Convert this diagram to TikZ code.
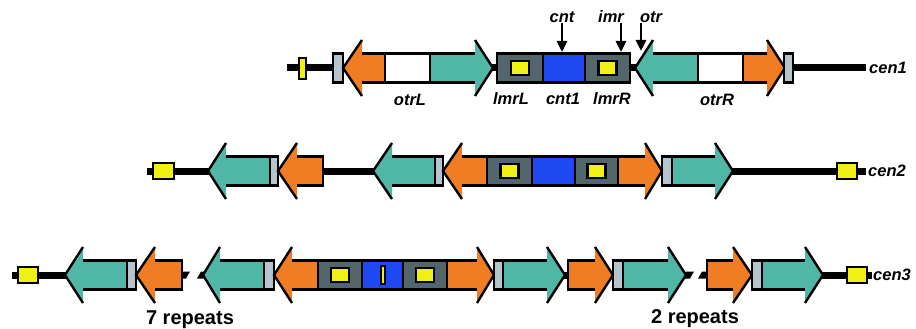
\documentclass[tikz,border=0pt]{standalone}
\usepackage{fontspec}
\setmainfont{Liberation Sans}
\usetikzlibrary{arrows.meta,positioning,calc}

\definecolor{orng}{RGB}{240,125,35}
\definecolor{tealc}{RGB}{80,182,166}
\definecolor{lgray}{RGB}{182,196,206}
\definecolor{slate}{RGB}{82,102,108}
\definecolor{blu}{RGB}{30,72,240}
\definecolor{yel}{RGB}{240,240,20}

% arrow pointing left: tip, head back, body end, y, colour
\newcommand{\arL}[5]{%
  \fill[#5] (#1,#4) -- (#2,#4-28) -- (#2,#4-14.5) -- (#3,#4-14.5) -- (#3,#4+14.5) -- (#2,#4+14.5) -- (#2,#4+28) -- cycle;
  \draw[seg] (#2,#4-14.5) -- (#3,#4-14.5) -- (#3,#4+14.5) -- (#2,#4+14.5);
  \draw[seg] (#2,#4-28) -- (#1,#4) -- (#2,#4+28);}
% arrow pointing right: tip, head back, body start, y, colour
\newcommand{\arR}[5]{%
  \fill[#5] (#1,#4) -- (#2,#4-28) -- (#2,#4-14.5) -- (#3,#4-14.5) -- (#3,#4+14.5) -- (#2,#4+14.5) -- (#2,#4+28) -- cycle;
  \draw[seg] (#2,#4-14.5) -- (#3,#4-14.5) -- (#3,#4+14.5) -- (#2,#4+14.5);
  \draw[seg] (#2,#4-28) -- (#1,#4) -- (#2,#4+28);}
% plain box: x1, x2, y, colour
\newcommand{\bx}[4]{\filldraw[seg,fill=#4] (#1,#3-14.5) rectangle (#2,#3+14.5);}
% imr box with yellow core
\newcommand{\imrbx}[3]{%
  \filldraw[seg,fill=slate] (#1,#3-14.5) rectangle (#2,#3+14.5);
  \filldraw[seg,fill=yel] ({(#1+#2)/2-9},#3-7) rectangle ({(#1+#2)/2+9},#3+7);}
% yellow end mark: x1, x2, y1, y2
\newcommand{\telo}[4]{\filldraw[seg,fill=yel] (#1,#3) rectangle (#2,#4);}

\begin{document}
\begin{tikzpicture}[x=1pt,y=-1pt,
  seg/.style={draw=black,line width=2.4pt},
  chr/.style={line width=7pt},
  lbl/.style={font=\bfseries\itshape\fontsize{16.5}{16.5}\selectfont,inner sep=0pt},
  rep/.style={font=\bfseries\fontsize{20}{20}\selectfont,inner sep=0pt},
  ptr/.style={line width=2.6pt,-{Triangle[length=11pt,width=10pt]}}]
\useasboundingbox (0,0) rectangle (916,329);

% cen1
\draw[chr] (287,68) -- (866,68);
\telo{299}{306}{58}{79}
\bx{333}{343}{68}{lgray}
\arL{343}{362}{385}{68}{orng}
\bx{385}{430}{68}{white}
\arR{493}{475}{430}{68}{tealc}
\imrbx{497}{543}{68}
\bx{543}{585}{68}{blu}
\imrbx{585}{630}{68}
\arL{635}{653}{698}{68}{tealc}
\bx{698}{743}{68}{white}
\arR{785}{767}{743}{68}{orng}
\bx{784}{793}{68}{lgray}

\node[lbl,anchor=west] (cen1) at (869,68) {cen1};
\node[lbl] (otrL) at (410,100) {otrL};
\node[lbl] (imrL) at (511,99) {lmrL};
\node[lbl] (cnt1) at (563,99) {cnt1};
\node[lbl] (imrR) at (612,99) {lmrR};
\node[lbl] (otrR) at (717,100) {otrR};

\node[lbl] (cnt) at (562,17) {cnt};
\node[lbl] (imr) at (611,17) {imr};
\node[lbl] (otr) at (651,17) {otr};
\coordinate (cntpt) at (562,52);
\coordinate (imrpt) at (621,52);
\coordinate (otrpt) at (641,51);
\draw[ptr] (cnt.south -| cntpt) -- (cntpt);
\draw[ptr] (imr.south -| imrpt) -- (imrpt);
\draw[ptr] (otr.south -| otrpt) -- (otrpt);

% cen2
\draw[chr] (147,171) -- (866,171);
\telo{153}{174}{163}{179}
\arL{208}{226}{270}{171}{tealc}
\bx{270}{278}{171}{lgray}
\arL{278}{297}{323}{171}{orng}
\arL{373}{392}{435}{171}{tealc}
\bx{435}{443}{171}{lgray}
\arL{443}{462}{487}{171}{orng}
\imrbx{487}{532}{171}
\bx{532}{575}{171}{blu}
\imrbx{575}{618}{171}
\arR{662}{645}{618}{171}{orng}
\bx{662}{672}{171}{lgray}
\arR{733}{715}{672}{171}{tealc}
\telo{837}{857}{163}{179}
\node[lbl,anchor=west] (cen2) at (868,171) {cen2};

% cen3
\draw[chr] (12,275) -- (182,275);
\draw[chr] (205,275) -- (686,275);
\draw[chr] (707,275) -- (872,275);
\fill (182,271.5) -- (190,271.5) -- (186,278.5) -- (182,278.5) -- cycle;
\fill (197,278.5) -- (201,271.5) -- (206,271.5) -- (206,278.5) -- cycle;
\fill (686,271.5) -- (694,271.5) -- (690,278.5) -- (686,278.5) -- cycle;
\fill (698,278.5) -- (702,271.5) -- (708,271.5) -- (708,278.5) -- cycle;
\telo{18}{38}{267}{283}
\arL{65}{83}{127}{275}{tealc}
\bx{127}{136}{275}{lgray}
\arL{136}{155}{182}{275}{orng}
\arL{203}{220}{264}{275}{tealc}
\bx{264}{274}{275}{lgray}
\arL{274}{292}{318}{275}{orng}
\imrbx{318}{362}{275}
\bx{362}{403}{275}{blu}
\filldraw[seg,fill=yel] (381,266) rectangle (385,284);
\imrbx{403}{447}{275}
\arR{494}{477}{447}{275}{orng}
\bx{494}{503}{275}{lgray}
\arR{565}{547}{503}{275}{tealc}
\arR{613}{595}{568}{275}{orng}
\bx{613}{623}{275}{lgray}
\arR{686}{668}{623}{275}{tealc}
\arR{752}{733}{707}{275}{orng}
\bx{752}{762}{275}{lgray}
\arR{823}{805}{762}{275}{tealc}
\telo{847}{867}{267}{283}
\node[lbl,anchor=west] (cen3) at (873,275) {cen3};

\node[rep] (rep7) at (190,320) {7 repeats};
\node[rep] (rep2) at (695,319) {2 repeats};
\end{tikzpicture}
\end{document}
